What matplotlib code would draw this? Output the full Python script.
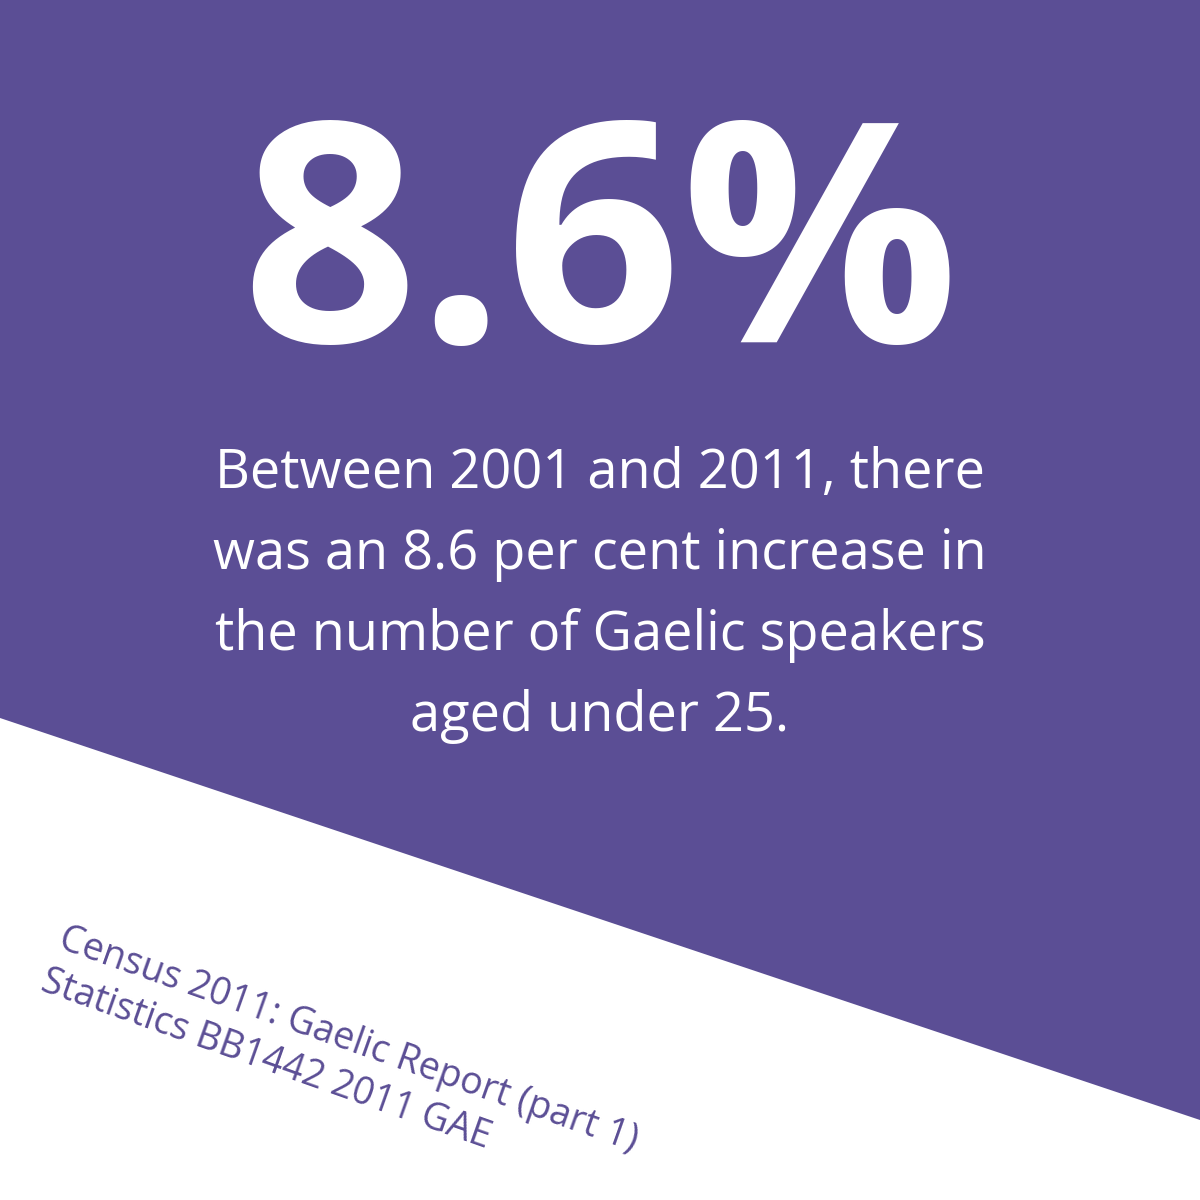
import matplotlib
matplotlib.use("Agg")
import matplotlib.pyplot as plt
from matplotlib.patches import Polygon

headline = "8.6%"
body_lines = ["Between 2001 and 2011, there",
              "was an 8.6 per cent increase in",
              "the number of Gaelic speakers",
              "aged under 25."]
source_lines = ["Census 2011: Gaelic Report (part 1)",
                "Statistics BB1442 2011 GAE"]

purple = "#5B4E95"
fig = plt.figure(figsize=(12, 12), dpi=100)
ax = fig.add_axes([0, 0, 1, 1])
ax.set_xlim(0, 1200)
ax.set_ylim(1200, 0)
ax.axis("off")
ax.add_patch(Polygon([(0, 0), (1200, 0), (1200, 1120), (0, 718)], closed=True,
                     color=purple, lw=0))

ax.text(600, 342, headline, ha="center", va="baseline", color="white",
        fontsize=222, fontweight="bold", family="Open Sans")
for i, line in enumerate(body_lines):
    ax.text(600, 488 + i * 81, line, ha="center", va="baseline", color="white",
            fontsize=39, family="Open Sans")
for i, line in enumerate(source_lines):
    x0, y0 = 57 - i * 18, 948 + i * 42
    ax.text(x0, y0, line, ha="left", va="baseline", color=purple,
            fontsize=27, family="Open Sans", rotation=-19.5, rotation_mode="anchor")

fig.savefig("out.png", dpi=100)
